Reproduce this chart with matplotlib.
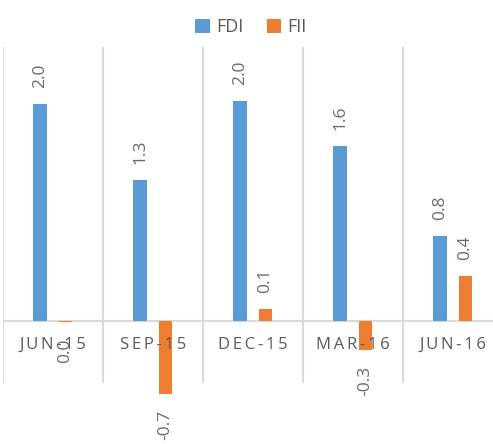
import matplotlib
matplotlib.use("Agg")
import matplotlib.pyplot as plt
import numpy as np

categories = ["JUN-15", "SEP-15", "DEC-15", "MAR-16", "JUN-16"]
fdi = [1.97, 1.28, 2.0, 1.59, 0.77]
fii = [-0.01, -0.66, 0.11, -0.26, 0.41]
fdi_labels = ["2.0", "1.3", "2.0", "1.6", "0.8"]
fii_labels = ["0.0", "-0.7", "0.1", "-0.3", "0.4"]

BLUE = "#5B9BD5"
ORANGE = "#ED7D31"
GRID = "#D9D9D9"
TXT = "#595959"
LBL = "#6A6A6A"
FONT = ["Open Sans", "DejaVu Sans"]

W, H = 493, 444
fig = plt.figure(figsize=(W / 100, H / 100), dpi=100)
# axes spanning pixel x 3..503, y 47..383
ax = fig.add_axes([3 / W, (H - 383) / H, 500 / W, 336 / H])
scale = 110.0  # px per unit
zero_px = 321
ymax = (zero_px - 47) / scale
ymin = -(383 - zero_px) / scale
ax.set_ylim(ymin, ymax)
ax.set_xlim(-0.5, len(categories) - 0.5)

x = np.arange(len(categories))
bw = 0.135
off_f, off_i = -0.13, 0.125
ax.bar(x + off_f, fdi, bw, color=BLUE, clip_on=False, zorder=3, label="FDI")
ax.bar(x + off_i, fii, bw, color=ORANGE, clip_on=False, zorder=3, label="FII")

for b in np.arange(-0.5, len(categories) + 0.5, 1.0):
    ax.axvline(b, color=GRID, lw=1.5, zorder=1)
ax.axhline(0, color=GRID, lw=1.5, zorder=2)

for spine in ax.spines.values():
    spine.set_visible(False)
ax.set_xticks([])
ax.set_yticks([])

pt = 0.72  # points per pixel at 100 dpi
def lab(xv, yv, s):
    if yv >= 0:
        ax.annotate(s, (xv, yv), xytext=(0, 16 * pt), textcoords="offset points",
                    rotation=90, ha="center", va="bottom", color=LBL,
                    fontsize=12.5, family=FONT, annotation_clip=False, zorder=5)
    else:
        ax.annotate(s, (xv, yv), xytext=(0, -16 * pt), textcoords="offset points",
                    rotation=90, ha="center", va="top", color=LBL,
                    fontsize=12.5, family=FONT, annotation_clip=False, zorder=5)

for i in range(len(categories)):
    lab(x[i] + off_f, fdi[i], fdi_labels[i])
    lab(x[i] + off_i, fii[i], fii_labels[i])

for i, c in enumerate(categories):
    spaced = "\u2009".join(list(c))
    ax.annotate(spaced, (x[i], 0), xytext=(0, -24 * pt), textcoords="offset points",
                ha="center", va="center", color=TXT, fontsize=12,
                family=FONT, annotation_clip=False, zorder=4)

leg = fig.legend(loc="center", bbox_to_anchor=(251 / W, 1 - 27 / H), ncol=2, frameon=False,
                 prop={"family": FONT, "size": 13}, handlelength=0.8,
                 handleheight=0.8, handletextpad=0.35, columnspacing=1.3)
for t in leg.get_texts():
    t.set_color(TXT)

fig.savefig("out.png", dpi=100)
